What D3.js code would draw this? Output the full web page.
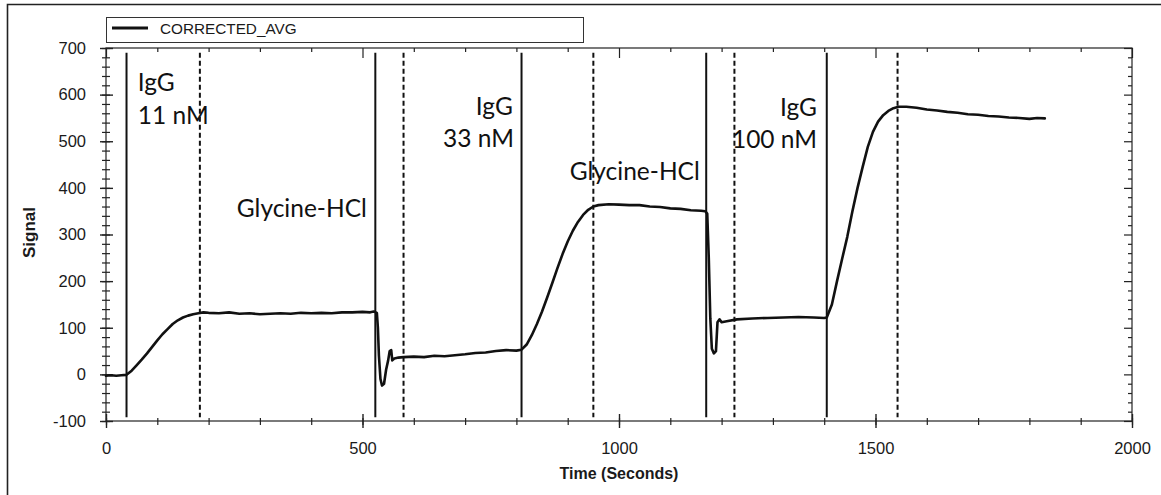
<!DOCTYPE html>
<html>
<head>
<meta charset="utf-8">
<script src="https://cdn.jsdelivr.net/npm/d3@7"></script>
<style>
  body { margin: 0; background: #fff; }
  svg { display: block; }
</style>
</head>
<body>
<svg id="chart" width="1161" height="495"></svg>
<script>
// Sensorgram: corrected average signal over time
const timeSec = [
  0, 10, 20, 30, 40, 50, 60, 70, 80, 90, 100, 110, 120, 130, 140, 150, 160, 170, 180, 190,
  200, 220, 240, 260, 280, 300, 320, 340, 360, 380, 400, 420, 440, 460, 480, 500, 515, 522,
  528, 530, 532, 535, 538, 542, 546, 550, 553, 556, 558, 562, 570, 580, 600, 620, 640, 660,
  680, 700, 720, 740, 760, 780, 800, 810, 820, 830, 840, 850, 860, 870, 880, 890, 900, 910,
  920, 930, 940, 950, 960, 980, 1000, 1020, 1040, 1060, 1080, 1100, 1120, 1140, 1160, 1168,
  1172, 1175, 1178, 1181, 1185, 1189, 1192, 1196, 1200, 1210, 1230, 1260, 1290, 1320, 1350,
  1380, 1400, 1405, 1415, 1425, 1435, 1445, 1455, 1465, 1475, 1485, 1495, 1505, 1515, 1525,
  1535, 1545, 1560, 1580, 1600, 1620, 1640, 1660, 1680, 1700, 1720, 1740, 1760, 1780, 1800,
  1815, 1830
];
const signal = [
  -3, -2, -3, -2, -1, 8, 20, 32, 45, 59, 73, 86, 97, 108, 116, 122, 126, 129, 131, 133,
  132, 131, 133, 130, 131, 129, 130, 131, 130, 132, 131, 132, 131, 133, 133, 134, 133, 135,
  132, 100, 40, -10, -24, -20, 10, 30, 50, 52, 30, 34, 36, 37, 38, 37, 40, 39,
  41, 43, 46, 47, 50, 52, 51, 53, 64, 84, 108, 135, 165, 196, 228, 258, 285, 308,
  327, 342, 353, 360, 363, 365, 364, 363, 363, 360, 359, 356, 355, 352, 351, 350,
  345, 250, 120, 55, 45, 50, 112, 118, 112, 114, 118, 120, 121, 122, 123,
  122, 121, 122, 150, 200, 248, 295, 350, 400, 445, 488, 520, 542, 556, 565,
  571, 574, 574, 572, 568, 566, 563, 561, 558, 557, 554, 553, 551, 550, 548,
  550, 549
];

// Injection start (solid) and end (dashed) markers, seconds
const injectionStarts = [40, 525, 810, 1170, 1405];
const injectionEnds = [183, 580, 950, 1225, 1543];

const xTickValues = [0, 500, 1000, 1500, 2000];
const yTickValues = [-100, 0, 100, 200, 300, 400, 500, 600, 700];

const seriesName = "CORRECTED_AVG";
const xTitle = "Time (Seconds)";
const yTitle = "Signal";

// Step annotations: text lines, anchored in data coordinates
const annotationText = [["IgG", "11 nM"], ["Glycine-HCl"], ["IgG", "33 nM"], ["Glycine-HCl"], ["IgG", "100 nM"]];
const annotationTime = [[62, 62], [255], [721, 657], [904], [1386, 1386]];
const annotationSignal = [[608, 537], [338], [556, 488], [417], [554, 486]];
const annotationAnchor = ["start", "start", "start", "start", "end"];

const svg = d3.select("#chart");
const plot = { left: 106, right: 1132, top: 48, bottom: 421 };

const x = d3.scaleLinear().domain([0, 2000]).range([plot.left, plot.right]);
const y = d3.scaleLinear().domain([-100, 700]).range([plot.bottom, plot.top]);

const ink = "#111";
const labelFont = "Liberation Sans, Arial, sans-serif";
const plainNumber = d => String(d);

// Outer frame (left and top edges)
svg.append("path")
  .attr("d", `M7.5,495 V4.5 H1161`)
  .attr("fill", "none").attr("stroke", "#222").attr("stroke-width", 1.6);

// Legend
const legend = svg.append("g");
legend.append("rect").attr("x", 106.5).attr("y", 17.5).attr("width", 477).attr("height", 25)
  .attr("fill", "#fff").attr("stroke", "#333").attr("stroke-width", 1);
legend.append("line").attr("x1", 112).attr("x2", 148).attr("y1", 28).attr("y2", 28)
  .attr("stroke", ink).attr("stroke-width", 3);
legend.append("text").attr("x", 160).attr("y", 34)
  .attr("font-family", labelFont).attr("font-size", 15.3)
  .attr("fill", "#1a1a1a").text(seriesName);

// Plot frame
svg.append("rect")
  .attr("x", plot.left).attr("y", plot.top)
  .attr("width", plot.right - plot.left).attr("height", plot.bottom - plot.top)
  .attr("fill", "none").attr("stroke", "#222").attr("stroke-width", 1.2);

const minorX = d3.range(0, 2001, 100);
const minorY = d3.range(-100, 701, 20);

// Bottom axis: crossing ticks, labelled majors
const gx = svg.append("g").attr("transform", `translate(0,${plot.bottom})`)
  .call(d3.axisBottom(x).tickValues(minorX).tickSize(4).tickFormat(""));
gx.select(".domain").remove();
gx.selectAll(".tick line").attr("y1", -3).attr("y2", 4).attr("stroke", "#222").attr("stroke-width", 1.2);
const gxMaj = svg.append("g").attr("transform", `translate(0,${plot.bottom})`)
  .call(d3.axisBottom(x).tickValues(xTickValues).tickSize(7).tickPadding(14).tickFormat(plainNumber));
gxMaj.select(".domain").remove();
gxMaj.selectAll(".tick line").attr("y1", -7).attr("y2", 7).attr("stroke", "#222").attr("stroke-width", 1.4);
gxMaj.selectAll(".tick text")
  .attr("font-family", labelFont).attr("font-size", 16.5).attr("fill", "#1a1a1a");

// Top axis: inward ticks
const gt = svg.append("g").attr("transform", `translate(0,${plot.top})`)
  .call(d3.axisTop(x).tickValues(minorX).tickSize(-4).tickFormat(""));
gt.select(".domain").remove();
gt.selectAll(".tick line").attr("stroke", "#222").attr("stroke-width", 1.2)
  .filter(d => d % 500 === 0).attr("y2", 10);

// Left axis: crossing ticks, labelled majors
const gy = svg.append("g").attr("transform", `translate(${plot.left},0)`)
  .call(d3.axisLeft(y).tickValues(minorY).tickSize(4).tickFormat(""));
gy.select(".domain").remove();
gy.selectAll(".tick line").attr("x1", 4).attr("x2", -4).attr("stroke", "#222").attr("stroke-width", 1.2);
const gyMaj = svg.append("g").attr("transform", `translate(${plot.left},0)`)
  .call(d3.axisLeft(y).tickValues(yTickValues).tickSize(6).tickPadding(14).tickFormat(plainNumber));
gyMaj.select(".domain").remove();
gyMaj.selectAll(".tick line").attr("x1", 7).attr("x2", -6).attr("stroke", "#222").attr("stroke-width", 1.4);
gyMaj.selectAll(".tick text")
  .attr("font-family", labelFont).attr("font-size", 16.5).attr("fill", "#1a1a1a");

// Right axis: inward ticks
const gr = svg.append("g").attr("transform", `translate(${plot.right},0)`)
  .call(d3.axisRight(y).tickValues(minorY).tickSize(-4).tickFormat(""));
gr.select(".domain").remove();
gr.selectAll(".tick line").attr("stroke", "#222").attr("stroke-width", 1.2)
  .filter(d => d % 100 === 0).attr("x2", -8);

// Axis titles
svg.append("text")
  .attr("x", (plot.left + plot.right) / 2).attr("y", 479)
  .attr("text-anchor", "middle")
  .attr("font-family", labelFont).attr("font-size", 16)
  .attr("font-weight", "bold").attr("fill", "#1a1a1a").text(xTitle);
svg.append("text")
  .attr("transform", `translate(35,${(plot.top + plot.bottom) / 2 - 2}) rotate(-90)`)
  .attr("text-anchor", "middle")
  .attr("font-family", labelFont).attr("font-size", 17)
  .attr("font-weight", "bold").attr("fill", "#1a1a1a").text(yTitle);

// Injection markers
const markerTop = 690, markerBottom = -92;
svg.append("g").selectAll("line").data(injectionStarts).join("line")
  .attr("x1", d => x(d)).attr("x2", d => x(d))
  .attr("y1", y(markerTop)).attr("y2", y(markerBottom))
  .attr("stroke", ink).attr("stroke-width", 2);
svg.append("g").selectAll("line").data(injectionEnds).join("line")
  .attr("x1", d => x(d)).attr("x2", d => x(d))
  .attr("y1", y(markerTop)).attr("y2", y(markerBottom))
  .attr("stroke", ink).attr("stroke-width", 2).attr("stroke-dasharray", "5,3");

// Signal trace
const series = timeSec.map((t, i) => [t, signal[i]]);
svg.append("path")
  .datum(series)
  .attr("fill", "none").attr("stroke", ink).attr("stroke-width", 2.6)
  .attr("stroke-linejoin", "round").attr("stroke-linecap", "round")
  .attr("d", d3.line().x(d => x(d[0])).y(d => y(d[1])));

// Step annotations
annotationText.forEach((lines, i) => {
  lines.forEach((txt, j) => {
    svg.append("text")
      .attr("x", x(annotationTime[i][j])).attr("y", y(annotationSignal[i][j]))
      .attr("text-anchor", annotationAnchor[i])
      .attr("font-family", "Lato, 'Open Sans', sans-serif").attr("font-size", 24.5)
      .attr("fill", "#111").text(txt);
  });
});
</script>
</body>
</html>
